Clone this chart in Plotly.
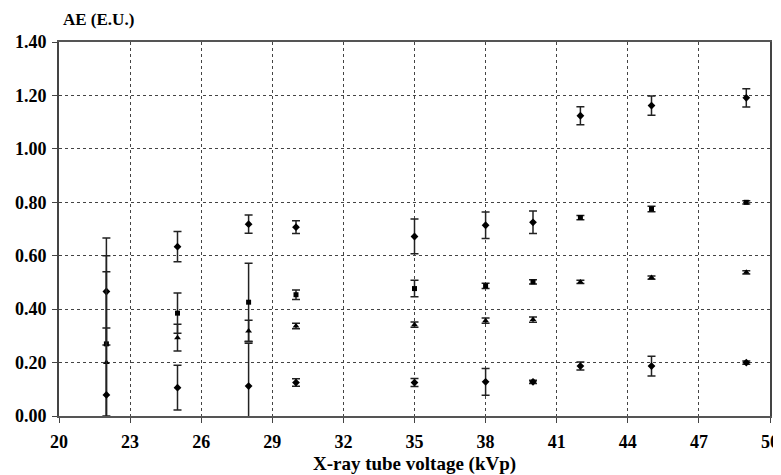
import plotly.graph_objects as go

x_vals = [22, 25, 28, 30, 35, 38, 40, 42, 45, 49]

s1_y = [0.466, 0.634, 0.718, 0.707, 0.672, 0.714, 0.725, 1.124, 1.162, 1.191]
s1_err = [0.20, 0.057, 0.034, 0.024, 0.065, 0.05, 0.042, 0.034, 0.036, 0.034]

s2_y = [0.27, 0.385, 0.426, 0.454, 0.477, 0.487, 0.502, 0.743, 0.775, 0.80]
s2_err = [0.27, 0.075, 0.146, 0.018, 0.031, 0.01, 0.008, 0.008, 0.01, 0.006]

s3_y = [0.20, 0.293, 0.318, 0.337, 0.342, 0.357, 0.361, 0.502, 0.518, 0.538]
s3_err = [0.40, 0.05, 0.04, 0.01, 0.01, 0.01, 0.01, 0.006, 0.006, 0.006]

s4_y = [0.079, 0.106, 0.112, 0.125, 0.125, 0.128, 0.128, 0.187, 0.187, 0.20]
s4_err = [0.25, 0.084, 0.16, 0.014, 0.015, 0.05, 0.006, 0.015, 0.037, 0.006]

x_ticks = [20, 23, 26, 29, 32, 35, 38, 41, 44, 47, 50]
y_ticks = [0.0, 0.2, 0.4, 0.6, 0.8, 1.0, 1.2, 1.4]

series = [
    (s1_y, s1_err, "diamond", 6),
    (s2_y, s2_err, "square", 5),
    (s3_y, s3_err, "triangle-up", 6),
    (s4_y, s4_err, "diamond", 6),
]

fig = go.Figure()
for ys, errs, sym, sz in series:
    fig.add_trace(go.Scatter(
        x=x_vals, y=ys, mode="markers",
        marker=dict(symbol=sym, size=sz, color="black"),
        error_y=dict(type="data", array=errs, visible=True,
                     color="#222222", thickness=1.5, width=4),
        showlegend=False,
    ))

font_family = "Times New Roman"
fig.update_layout(
    width=773, height=467,
    margin=dict(l=51, r=11, t=34, b=59),
    paper_bgcolor="white", plot_bgcolor="white",
    font=dict(family=font_family, color="black"),
    showlegend=False,
)
fig.update_xaxes(
    range=[20, 50], tickvals=x_ticks,
    ticktext=["<b>%d</b>" % v for v in x_ticks],
    tickfont=dict(family=font_family, size=18, color="black"),
    ticklabelstandoff=3, automargin=False,
    showgrid=True, gridcolor="#444444", griddash="dot", gridwidth=1,
    showline=True, linecolor="#555555", linewidth=2, mirror=True,
    ticks="outside", ticklen=5, tickcolor="#444444",
    zeroline=False,
    title=dict(text="<b>X-ray tube voltage (kVp)</b>",
               font=dict(family=font_family, size=19, color="black"),
               standoff=9),
)
fig.update_yaxes(
    range=[0, 1.4], tickvals=y_ticks,
    ticktext=["<b>%.2f</b>" % v for v in y_ticks],
    tickfont=dict(family=font_family, size=18, color="black"),
    ticklabelstandoff=2, automargin=False,
    showgrid=True, gridcolor="#444444", griddash="dot", gridwidth=1,
    showline=True, linecolor="#444444", linewidth=2, mirror=True,
    ticks="outside", ticklen=5, tickcolor="#444444",
    zeroline=False,
)
fig.add_annotation(
    text="<b>AE (E.U.)</b>", xref="paper", yref="paper", x=0, y=1,
    xanchor="left", yanchor="bottom", xshift=2, yshift=11, showarrow=False,
    font=dict(family=font_family, size=17, color="black"),
)

fig.write_html("out.html")
